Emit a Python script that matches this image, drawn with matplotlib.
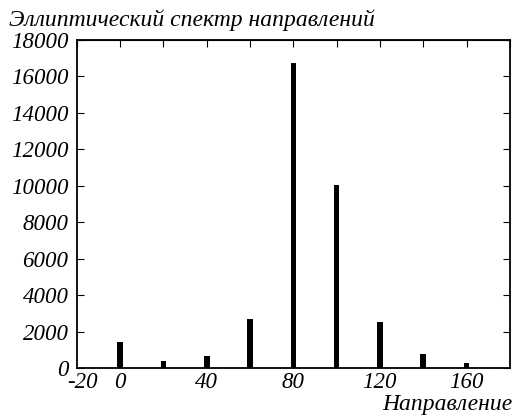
import matplotlib
matplotlib.use("Agg")
import matplotlib.pyplot as plt
import matplotlib.transforms as mtransforms

# направления и значения спектра
directions = [0, 20, 40, 60, 80, 100, 120, 140, 160]
values = [1420, 380, 660, 2680, 16720, 10050, 2520, 780, 280]
xticks = [-20, 0, 40, 80, 120, 160]
yticks = [0, 2000, 4000, 6000, 8000, 10000, 12000, 14000, 16000, 18000]

plt.rcParams['font.family'] = ['Liberation Serif', 'DejaVu Serif']
plt.rcParams['font.style'] = 'italic'
plt.rcParams['axes.unicode_minus'] = False

fig = plt.figure(figsize=(5.16, 4.17), dpi=100)
ax = fig.add_axes([0.149, 0.1175, 0.839, 0.7865])

ax.bar(directions, values, width=2.6, color='black')

ax.set_xlim(-20, 180)
ax.set_ylim(0, 18000)
ax.set_xticks(xticks)
ax.set_xticklabels([str(t) for t in xticks], fontsize=16.5, style='italic')
ax.set_yticks(yticks)
ax.set_yticklabels([str(t) for t in yticks], fontsize=16.5, style='italic')
ax.tick_params(axis='x', bottom=True, length=0, pad=3)
ax.tick_params(axis='y', direction='in', left=True, right=True, length=5, pad=6)

# подпись -20 чуть правее, как в оригинале
lab = ax.get_xticklabels()[0]
lab.set_transform(lab.get_transform() + mtransforms.ScaledTranslation(6 / 100, 0, fig.dpi_scale_trans))

# верхние засечки через каждые 20
top = ax.secondary_xaxis('top')
top.set_xticks(range(-20, 181, 20))
top.tick_params(direction='in', length=5, labeltop=False)

for s in ax.spines.values():
    s.set_linewidth(1.3)

fig.text(0.018, 0.952, 'Эллиптический спектр направлений', fontsize=17, style='italic', va='center')
fig.text(0.993, 0.004, 'Направление', fontsize=17, style='italic', ha='right', va='bottom')

fig.savefig('out.png', dpi=100)
